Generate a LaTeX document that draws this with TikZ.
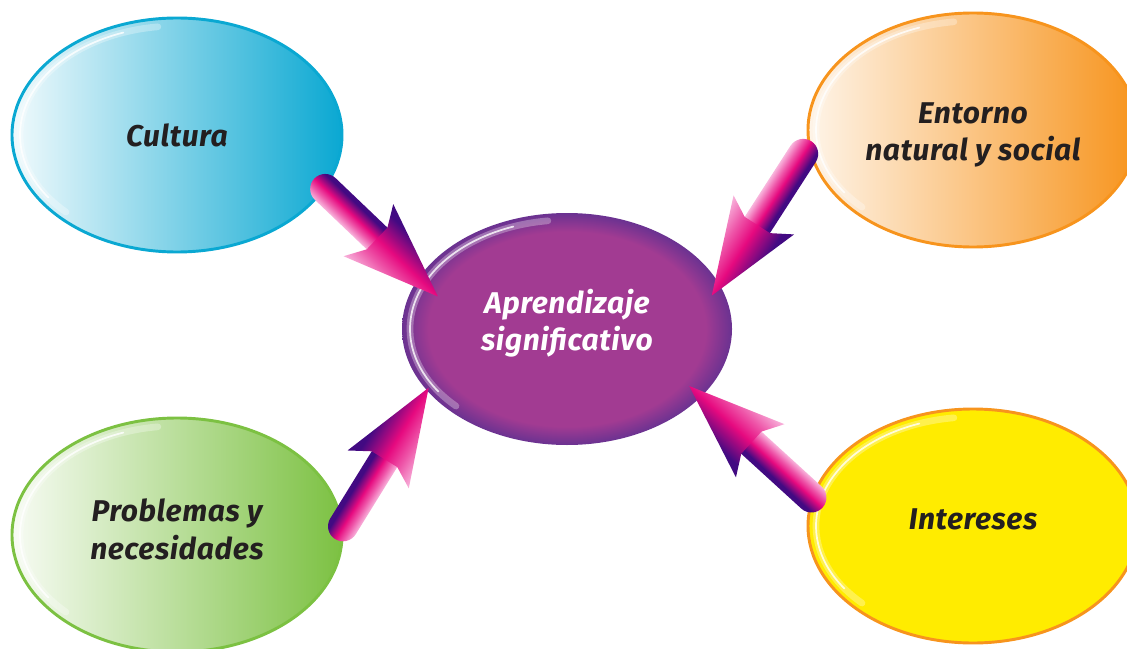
\documentclass[tikz,border=0pt]{standalone}
\usepackage{fontspec}
\setmainfont{Fira Sans}
\usetikzlibrary{shapes.geometric,calc}
\definecolor{ccian}{HTML}{0AA8D2}
\definecolor{cnaranja}{HTML}{F7941D}
\definecolor{cverde}{HTML}{7CC142}
\definecolor{camarillo}{HTML}{FFEC00}
\definecolor{cmorado}{HTML}{A23B92}
\definecolor{cborde}{HTML}{6A3291}
\definecolor{ctexto}{HTML}{231F20}
\definecolor{fdark}{HTML}{420A82}
\definecolor{fmid}{HTML}{E6097F}
\definecolor{flight}{HTML}{F8B4DC}
\pgfdeclareverticalshading{flecha}{100bp}{color(0bp)=(flight); color(25bp)=(flight); color(38bp)=(flight!45!fmid); color(50bp)=(fmid); color(68bp)=(fdark); color(100bp)=(fdark)}
\pgfdeclareradialshading{centro}{\pgfpoint{0bp}{0bp}}{color(0bp)=(cmorado); color(21bp)=(cmorado); color(25bp)=(cborde); color(50bp)=(cborde)}
\tikzset{
	burbuja/.style={ellipse, minimum width=247.5pt, minimum height=175.5pt, inner sep=0pt,
		line width=2.2pt, align=center, text=ctexto,
		font=\bfseries\itshape\fontsize{22.5}{28}\selectfont\addfontfeatures{LetterSpace=2}},
	brillo/.style={white, line cap=round},
}
\newcommand{\Brillo}[1]{
	\draw[brillo, line width=5pt, opacity=.3] ($(#1.center)+(-97:157 and 109)$) arc[start angle=-97, end angle=-225, x radius=157, y radius=109];
	\draw[brillo, line width=1.3pt, opacity=.8] ($(#1.center)+(-110:157 and 109)$) arc[start angle=-110, end angle=-215, x radius=157, y radius=109];
}
\newcommand{\Flecha}[2]{
	\coordinate (fA) at #1;
	\coordinate (fB) at #2;
	\pgfpointdiff{\pgfpointanchor{fA}{center}}{\pgfpointanchor{fB}{center}}
	\pgfgetlastxy{\fdx}{\fdy}
	\pgfmathsetmacro{\flen}{veclen(\fdx,\fdy)/0.75}
	\pgfmathsetmacro{\fang}{atan2(\fdy,\fdx)}
	\begin{scope}[transform canvas={shift={(fA)},rotate=\fang}]
		\shade[shading=flecha] (0,-15) -- (\flen-83,-15) -- (\flen-83,15) -- (0,15)
			arc[start angle=90, end angle=270, radius=15] -- cycle;
		\shade[shading=flecha] (\flen-84,-15) -- (\flen-96,-36) -- (\flen,0)
			-- (\flen-96,36) -- (\flen-84,15) -- cycle;
	\end{scope}
}

\begin{document}
\begin{tikzpicture}[x=0.75pt, y=-0.75pt]
	\useasboundingbox (0,0) rectangle (1127,649);
	% burbujas
	\node[burbuja, draw=ccian, left color=ccian!6, right color=ccian] (cultura) at (177,135) {Cultura};
	\node[burbuja, draw=cnaranja, left color=cnaranja!10, right color=cnaranja, text height=51pt] (entorno) at (973,130) {Entorno\\natural y social};
	\node[burbuja, draw=cverde, left color=cverde!6, right color=cverde, text depth=9pt] (problemas) at (177,535) {Problemas y\\necesidades};
	\node[burbuja, draw=cnaranja, fill=camarillo, text depth=10pt] (intereses) at (973,526) {Intereses};
	\node[burbuja, shading=centro, text=white, minimum height=174pt, text depth=14pt] (centro) at (567,329) {Aprendizaje\\significativo};
	\Brillo{cultura}
	\Brillo{entorno}
	\Brillo{problemas}
	\Brillo{intereses}
	\Brillo{centro}
	% flechas
	\Flecha{(cultura.-20)}{($(centro)!0.82!(centro.166)$)}
	\Flecha{($(entorno)!1.04!(entorno.188)$)}{($(centro)!0.915!(centro.13)$)}
	\Flecha{(problemas.3)}{($(centro)!0.97!(centro.203)$)}
	\Flecha{(intereses.170)}{($(centro)!0.88!(centro.-25)$)}
\end{tikzpicture}
\end{document}
